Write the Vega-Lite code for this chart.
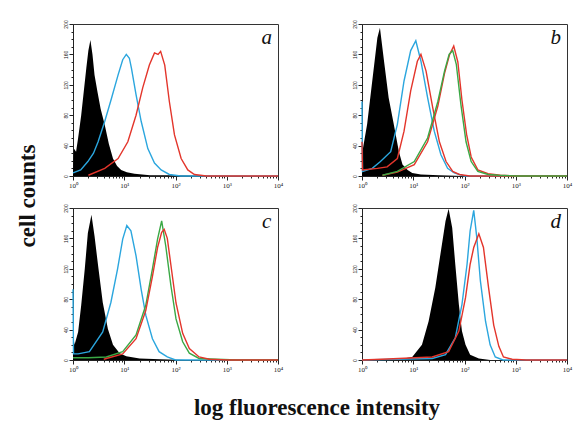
{
  "$schema": "https://vega.github.io/schema/vega-lite/v6.json",
  "autosize": {"type": "pad"},
  "padding": {"left": 16, "top": 19, "right": 10, "bottom": 5},
  "background": "white",
  "datasets": {
    "panels": [
      {"panel": "a", "row": 1, "col": 1},
      {"panel": "b", "row": 1, "col": 2},
      {"panel": "c", "row": 2, "col": 1},
      {"panel": "d", "row": 2, "col": 2}
    ],
    "hist": [
      {"panel":"a","s":"k","lx":0,"n":5},{"panel":"a","s":"k","lx":0.02,"n":36},{"panel":"a","s":"k","lx":0.06,"n":32},{"panel":"a","s":"k","lx":0.1,"n":50},{"panel":"a","s":"k","lx":0.16,"n":80},{"panel":"a","s":"k","lx":0.2,"n":105},{"panel":"a","s":"k","lx":0.26,"n":142},{"panel":"a","s":"k","lx":0.3,"n":165},{"panel":"a","s":"k","lx":0.34,"n":179},{"panel":"a","s":"k","lx":0.38,"n":160},{"panel":"a","s":"k","lx":0.42,"n":133},{"panel":"a","s":"k","lx":0.48,"n":110},{"panel":"a","s":"k","lx":0.54,"n":88},{"panel":"a","s":"k","lx":0.62,"n":67},{"panel":"a","s":"k","lx":0.7,"n":42},{"panel":"a","s":"k","lx":0.78,"n":23},{"panel":"a","s":"k","lx":0.86,"n":13},{"panel":"a","s":"k","lx":0.94,"n":8},{"panel":"a","s":"k","lx":1.05,"n":5},{"panel":"a","s":"k","lx":1.2,"n":3},{"panel":"a","s":"k","lx":1.5,"n":1},{"panel":"a","s":"k","lx":2,"n":1},{"panel":"a","s":"k","lx":3,"n":0},{"panel":"a","s":"k","lx":4,"n":0},
      {"panel":"a","s":"blue","lx":0,"n":4},{"panel":"a","s":"blue","lx":0.15,"n":8},{"panel":"a","s":"blue","lx":0.29,"n":19},{"panel":"a","s":"blue","lx":0.4,"n":30},{"panel":"a","s":"blue","lx":0.49,"n":45},{"panel":"a","s":"blue","lx":0.62,"n":72},{"panel":"a","s":"blue","lx":0.75,"n":102},{"panel":"a","s":"blue","lx":0.88,"n":133},{"panel":"a","s":"blue","lx":0.97,"n":153},{"panel":"a","s":"blue","lx":1.04,"n":160},{"panel":"a","s":"blue","lx":1.1,"n":155},{"panel":"a","s":"blue","lx":1.14,"n":142},{"panel":"a","s":"blue","lx":1.23,"n":107},{"panel":"a","s":"blue","lx":1.33,"n":72},{"panel":"a","s":"blue","lx":1.46,"n":36},{"panel":"a","s":"blue","lx":1.59,"n":17},{"panel":"a","s":"blue","lx":1.72,"n":8},{"panel":"a","s":"blue","lx":1.88,"n":2},{"panel":"a","s":"blue","lx":2.1,"n":0},{"panel":"a","s":"blue","lx":4,"n":0},
      {"panel":"a","s":"red","lx":0.3,"n":1},{"panel":"a","s":"red","lx":0.62,"n":10},{"panel":"a","s":"red","lx":0.88,"n":23},{"panel":"a","s":"red","lx":1.07,"n":45},{"panel":"a","s":"red","lx":1.23,"n":80},{"panel":"a","s":"red","lx":1.36,"n":116},{"panel":"a","s":"red","lx":1.49,"n":146},{"panel":"a","s":"red","lx":1.59,"n":162},{"panel":"a","s":"red","lx":1.66,"n":160},{"panel":"a","s":"red","lx":1.71,"n":164},{"panel":"a","s":"red","lx":1.79,"n":146},{"panel":"a","s":"red","lx":1.88,"n":98},{"panel":"a","s":"red","lx":1.98,"n":54},{"panel":"a","s":"red","lx":2.11,"n":23},{"panel":"a","s":"red","lx":2.24,"n":8},{"panel":"a","s":"red","lx":2.37,"n":2},{"panel":"a","s":"red","lx":2.6,"n":0},{"panel":"a","s":"red","lx":4,"n":0},
      {"panel":"b","s":"k","lx":0,"n":5},{"panel":"b","s":"k","lx":0.02,"n":37},{"panel":"b","s":"k","lx":0.1,"n":68},{"panel":"b","s":"k","lx":0.2,"n":125},{"panel":"b","s":"k","lx":0.3,"n":182},{"panel":"b","s":"k","lx":0.35,"n":195},{"panel":"b","s":"k","lx":0.43,"n":151},{"panel":"b","s":"k","lx":0.52,"n":103},{"panel":"b","s":"k","lx":0.62,"n":68},{"panel":"b","s":"k","lx":0.72,"n":32},{"panel":"b","s":"k","lx":0.79,"n":15},{"panel":"b","s":"k","lx":0.89,"n":8},{"panel":"b","s":"k","lx":0.98,"n":4},{"panel":"b","s":"k","lx":1.15,"n":2},{"panel":"b","s":"k","lx":1.5,"n":1},{"panel":"b","s":"k","lx":2,"n":0},{"panel":"b","s":"k","lx":4,"n":0},
      {"panel":"b","s":"blue","lx":0,"n":98},{"panel":"b","s":"blue","lx":0.01,"n":6},{"panel":"b","s":"blue","lx":0.2,"n":10},{"panel":"b","s":"blue","lx":0.36,"n":19},{"panel":"b","s":"blue","lx":0.56,"n":32},{"panel":"b","s":"blue","lx":0.69,"n":68},{"panel":"b","s":"blue","lx":0.82,"n":125},{"panel":"b","s":"blue","lx":0.95,"n":165},{"panel":"b","s":"blue","lx":1.05,"n":178},{"panel":"b","s":"blue","lx":1.15,"n":151},{"panel":"b","s":"blue","lx":1.28,"n":103},{"panel":"b","s":"blue","lx":1.41,"n":59},{"panel":"b","s":"blue","lx":1.54,"n":28},{"panel":"b","s":"blue","lx":1.67,"n":10},{"panel":"b","s":"blue","lx":1.8,"n":4},{"panel":"b","s":"blue","lx":2,"n":0},{"panel":"b","s":"blue","lx":4,"n":0},
      {"panel":"b","s":"red","lx":0,"n":45},{"panel":"b","s":"red","lx":0.01,"n":8},{"panel":"b","s":"red","lx":0.3,"n":10},{"panel":"b","s":"red","lx":0.49,"n":12},{"panel":"b","s":"red","lx":0.69,"n":23},{"panel":"b","s":"red","lx":0.82,"n":59},{"panel":"b","s":"red","lx":0.95,"n":112},{"panel":"b","s":"red","lx":1.08,"n":151},{"panel":"b","s":"red","lx":1.15,"n":160},{"panel":"b","s":"red","lx":1.25,"n":138},{"panel":"b","s":"red","lx":1.38,"n":90},{"panel":"b","s":"red","lx":1.51,"n":45},{"panel":"b","s":"red","lx":1.64,"n":19},{"panel":"b","s":"red","lx":1.77,"n":6},{"panel":"b","s":"red","lx":1.9,"n":2},{"panel":"b","s":"red","lx":2.1,"n":0},{"panel":"b","s":"red","lx":4,"n":0},
      {"panel":"b","s":"red2","lx":0.4,"n":1},{"panel":"b","s":"red2","lx":0.69,"n":5},{"panel":"b","s":"red2","lx":1.02,"n":15},{"panel":"b","s":"red2","lx":1.28,"n":45},{"panel":"b","s":"red2","lx":1.48,"n":92},{"panel":"b","s":"red2","lx":1.61,"n":135},{"panel":"b","s":"red2","lx":1.71,"n":160},{"panel":"b","s":"red2","lx":1.79,"n":171},{"panel":"b","s":"red2","lx":1.87,"n":150},{"panel":"b","s":"red2","lx":1.95,"n":100},{"panel":"b","s":"red2","lx":2.04,"n":55},{"panel":"b","s":"red2","lx":2.13,"n":25},{"panel":"b","s":"red2","lx":2.26,"n":8},{"panel":"b","s":"red2","lx":2.46,"n":3},{"panel":"b","s":"red2","lx":2.7,"n":1},{"panel":"b","s":"red2","lx":3,"n":0},{"panel":"b","s":"red2","lx":4,"n":0},
      {"panel":"b","s":"green","lx":0.4,"n":1},{"panel":"b","s":"green","lx":0.69,"n":6},{"panel":"b","s":"green","lx":1.02,"n":19},{"panel":"b","s":"green","lx":1.28,"n":50},{"panel":"b","s":"green","lx":1.48,"n":98},{"panel":"b","s":"green","lx":1.61,"n":138},{"panel":"b","s":"green","lx":1.7,"n":160},{"panel":"b","s":"green","lx":1.77,"n":165},{"panel":"b","s":"green","lx":1.84,"n":147},{"panel":"b","s":"green","lx":1.93,"n":94},{"panel":"b","s":"green","lx":2.03,"n":45},{"panel":"b","s":"green","lx":2.13,"n":19},{"panel":"b","s":"green","lx":2.26,"n":6},{"panel":"b","s":"green","lx":2.46,"n":2},{"panel":"b","s":"green","lx":2.66,"n":1},{"panel":"b","s":"green","lx":3,"n":0},{"panel":"b","s":"green","lx":4,"n":0},
      {"panel":"c","s":"k","lx":0,"n":33},{"panel":"c","s":"k","lx":0.03,"n":20},{"panel":"c","s":"k","lx":0.1,"n":37},{"panel":"c","s":"k","lx":0.16,"n":72},{"panel":"c","s":"k","lx":0.23,"n":120},{"panel":"c","s":"k","lx":0.29,"n":167},{"panel":"c","s":"k","lx":0.36,"n":191},{"panel":"c","s":"k","lx":0.42,"n":163},{"panel":"c","s":"k","lx":0.49,"n":124},{"panel":"c","s":"k","lx":0.58,"n":76},{"panel":"c","s":"k","lx":0.68,"n":41},{"panel":"c","s":"k","lx":0.78,"n":20},{"panel":"c","s":"k","lx":0.91,"n":9},{"panel":"c","s":"k","lx":1.04,"n":5},{"panel":"c","s":"k","lx":1.3,"n":2},{"panel":"c","s":"k","lx":1.7,"n":1},{"panel":"c","s":"k","lx":2.2,"n":0},{"panel":"c","s":"k","lx":4,"n":0},
      {"panel":"c","s":"blue","lx":0,"n":93},{"panel":"c","s":"blue","lx":0.01,"n":8},{"panel":"c","s":"blue","lx":0.1,"n":8},{"panel":"c","s":"blue","lx":0.32,"n":11},{"panel":"c","s":"blue","lx":0.58,"n":37},{"panel":"c","s":"blue","lx":0.74,"n":76},{"panel":"c","s":"blue","lx":0.87,"n":120},{"panel":"c","s":"blue","lx":0.97,"n":159},{"panel":"c","s":"blue","lx":1.05,"n":177},{"panel":"c","s":"blue","lx":1.13,"n":170},{"panel":"c","s":"blue","lx":1.23,"n":137},{"panel":"c","s":"blue","lx":1.33,"n":93},{"panel":"c","s":"blue","lx":1.42,"n":59},{"panel":"c","s":"blue","lx":1.55,"n":28},{"panel":"c","s":"blue","lx":1.68,"n":11},{"panel":"c","s":"blue","lx":1.84,"n":4},{"panel":"c","s":"blue","lx":2,"n":0},{"panel":"c","s":"blue","lx":4,"n":0},
      {"panel":"c","s":"green","lx":0,"n":3},{"panel":"c","s":"green","lx":0.3,"n":3},{"panel":"c","s":"green","lx":0.65,"n":4},{"panel":"c","s":"green","lx":0.97,"n":11},{"panel":"c","s":"green","lx":1.23,"n":33},{"panel":"c","s":"green","lx":1.42,"n":72},{"panel":"c","s":"green","lx":1.55,"n":120},{"panel":"c","s":"green","lx":1.65,"n":159},{"panel":"c","s":"green","lx":1.73,"n":183},{"panel":"c","s":"green","lx":1.81,"n":150},{"panel":"c","s":"green","lx":1.91,"n":98},{"panel":"c","s":"green","lx":2.01,"n":54},{"panel":"c","s":"green","lx":2.14,"n":24},{"panel":"c","s":"green","lx":2.27,"n":9},{"panel":"c","s":"green","lx":2.46,"n":2},{"panel":"c","s":"green","lx":2.8,"n":1},{"panel":"c","s":"green","lx":3.2,"n":0},{"panel":"c","s":"green","lx":4,"n":0},
      {"panel":"c","s":"red","lx":0.6,"n":1},{"panel":"c","s":"red","lx":0.97,"n":8},{"panel":"c","s":"red","lx":1.23,"n":28},{"panel":"c","s":"red","lx":1.42,"n":65},{"panel":"c","s":"red","lx":1.55,"n":110},{"panel":"c","s":"red","lx":1.65,"n":148},{"panel":"c","s":"red","lx":1.73,"n":168},{"panel":"c","s":"red","lx":1.78,"n":172},{"panel":"c","s":"red","lx":1.84,"n":160},{"panel":"c","s":"red","lx":1.91,"n":125},{"panel":"c","s":"red","lx":2.01,"n":75},{"panel":"c","s":"red","lx":2.14,"n":35},{"panel":"c","s":"red","lx":2.27,"n":15},{"panel":"c","s":"red","lx":2.46,"n":4},{"panel":"c","s":"red","lx":2.66,"n":1},{"panel":"c","s":"red","lx":3,"n":0},{"panel":"c","s":"red","lx":4,"n":0},
      {"panel":"d","s":"k","lx":0,"n":0},{"panel":"d","s":"k","lx":0.72,"n":1},{"panel":"d","s":"k","lx":0.98,"n":4},{"panel":"d","s":"k","lx":1.17,"n":20},{"panel":"d","s":"k","lx":1.3,"n":51},{"panel":"d","s":"k","lx":1.43,"n":95},{"panel":"d","s":"k","lx":1.53,"n":139},{"panel":"d","s":"k","lx":1.63,"n":183},{"panel":"d","s":"k","lx":1.69,"n":199},{"panel":"d","s":"k","lx":1.76,"n":174},{"panel":"d","s":"k","lx":1.82,"n":126},{"panel":"d","s":"k","lx":1.89,"n":73},{"panel":"d","s":"k","lx":1.95,"n":38},{"panel":"d","s":"k","lx":2.02,"n":20},{"panel":"d","s":"k","lx":2.11,"n":7},{"panel":"d","s":"k","lx":2.28,"n":2},{"panel":"d","s":"k","lx":2.5,"n":0},{"panel":"d","s":"k","lx":4,"n":0},
      {"panel":"d","s":"blue","lx":0,"n":0},{"panel":"d","s":"blue","lx":1.37,"n":2},{"panel":"d","s":"blue","lx":1.63,"n":7},{"panel":"d","s":"blue","lx":1.82,"n":29},{"panel":"d","s":"blue","lx":1.95,"n":73},{"panel":"d","s":"blue","lx":2.05,"n":126},{"panel":"d","s":"blue","lx":2.11,"n":170},{"panel":"d","s":"blue","lx":2.18,"n":197},{"panel":"d","s":"blue","lx":2.24,"n":161},{"panel":"d","s":"blue","lx":2.31,"n":104},{"panel":"d","s":"blue","lx":2.41,"n":51},{"panel":"d","s":"blue","lx":2.5,"n":20},{"panel":"d","s":"blue","lx":2.6,"n":4},{"panel":"d","s":"blue","lx":2.75,"n":0},{"panel":"d","s":"blue","lx":4,"n":0},
      {"panel":"d","s":"red","lx":0,"n":0},{"panel":"d","s":"red","lx":0.39,"n":1},{"panel":"d","s":"red","lx":1.37,"n":4},{"panel":"d","s":"red","lx":1.69,"n":11},{"panel":"d","s":"red","lx":1.89,"n":38},{"panel":"d","s":"red","lx":2.02,"n":82},{"panel":"d","s":"red","lx":2.11,"n":126},{"panel":"d","s":"red","lx":2.18,"n":148},{"panel":"d","s":"red","lx":2.28,"n":166},{"panel":"d","s":"red","lx":2.37,"n":148},{"panel":"d","s":"red","lx":2.47,"n":95},{"panel":"d","s":"red","lx":2.57,"n":46},{"panel":"d","s":"red","lx":2.67,"n":18},{"panel":"d","s":"red","lx":2.76,"n":4},{"panel":"d","s":"red","lx":2.93,"n":1},{"panel":"d","s":"red","lx":3.2,"n":0},{"panel":"d","s":"red","lx":4,"n":0}
    ]
  },
  "data": {"name": "hist"},
  "transform": [
    {"lookup": "panel", "from": {"data": {"name": "panels"}, "key": "panel", "fields": ["row", "col"]}}
  ],
  "facet": {
    "row": {"field": "row", "type": "ordinal", "header": {"title": "cell counts", "labels": false, "titleOrient": "left", "titleFont": "Liberation Serif", "titleFontSize": 23, "titleFontWeight": "bold", "titleColor": "#111", "titlePadding": 12}},
    "column": {"field": "col", "type": "ordinal", "header": {"title": "log fluorescence intensity", "labels": false, "titleOrient": "bottom", "titleFont": "Liberation Serif", "titleFontSize": 23, "titleFontWeight": "bold", "titleColor": "#111", "titlePadding": 14}}
  },
  "spacing": {"row": 14, "column": 67},
  "resolve": {"axis": {"x": "independent", "y": "independent"}},
  "spec": {
    "width": 205,
    "height": 152,
    "layer": [
      {
        "transform": [{"filter": "datum.s == 'k'"}],
        "mark": {"type": "area", "color": "#000"},
        "encoding": {
          "x": {"field": "lx", "type": "quantitative", "scale": {"domain": [0, 4], "nice": false},
            "axis": {"title": null, "tickCount": 200,
              "values": [0,0.301,0.477,0.602,0.699,0.778,0.845,0.903,0.954,1,1.301,1.477,1.602,1.699,1.778,1.845,1.903,1.954,2,2.301,2.477,2.602,2.699,2.778,2.845,2.903,2.954,3,3.301,3.477,3.602,3.699,3.778,3.845,3.903,3.954,4],
              "labelExpr": "datum.value % 1 == 0 ? '10' + ['⁰','¹','²','³','⁴'][datum.value] : ''",
              "tickSize": {"condition": {"test": "datum.value % 1 == 0", "value": 4}, "value": 2}}},
          "y": {"field": "n", "type": "quantitative", "scale": {"domain": [0, 200], "nice": false},
            "axis": {"title": null, "tickCount": 200,
              "values": [0,10,20,30,40,50,60,70,80,90,100,110,120,130,140,150,160,170,180,190,200],
              "labelExpr": "datum.value % 40 == 0 ? datum.label : ''",
              "tickSize": {"condition": {"test": "datum.value % 40 == 0", "value": 4}, "value": 2}}}
        }
      },
      {
        "transform": [{"filter": "datum.s != 'k'"}],
        "mark": {"type": "line", "strokeWidth": 1.4},
        "encoding": {
          "x": {"field": "lx", "type": "quantitative", "axis": {"title": null}},
          "y": {"field": "n", "type": "quantitative", "axis": {"title": null}},
          "color": {"field": "s", "type": "nominal", "legend": null,
            "scale": {"domain": ["blue", "red", "red2", "green"], "range": ["#2ba6de", "#e3352b", "#e3352b", "#3aa845"]}}
        }
      },
      {
        "transform": [{"aggregate": [{"op": "count", "as": "cnt"}], "groupby": ["panel", "row", "col"]}],
        "mark": {"type": "text", "font": "Liberation Serif", "fontStyle": "italic", "fontSize": 21, "color": "#111", "align": "center", "baseline": "middle"},
        "encoding": {
          "x": {"datum": 3.78, "type": "quantitative"},
          "y": {"datum": 182, "type": "quantitative"},
          "yOffset": {"condition": {"test": "datum.row == 2", "value": 4}, "value": 0},
          "text": {"field": "panel"}
        }
      }
    ]
  },
  "config": {
    "view": {"stroke": "#333", "strokeWidth": 1},
    "axis": {"grid": false, "labelOverlap": false, "labelFlush": false, "tickColor": "#222", "domainColor": "#222", "labelColor": "#222", "labelPadding": 1},
    "axisX": {"labelFont": "Liberation Serif", "labelFontSize": 7},
    "axisY": {"labelFont": "Liberation Sans", "labelFontSize": 5, "labelAngle": 270, "labelAlign": "center", "labelBaseline": "bottom"}
  }
}
